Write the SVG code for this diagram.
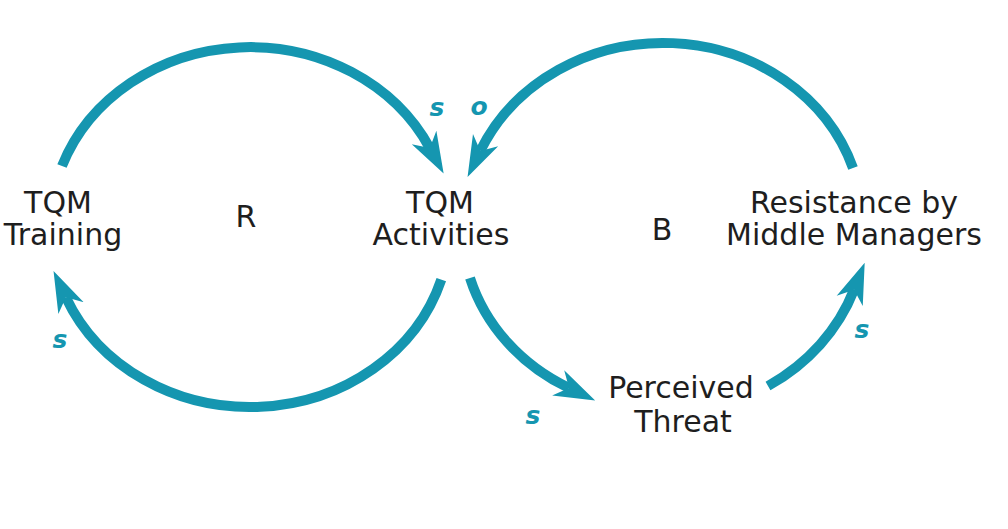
<svg xmlns="http://www.w3.org/2000/svg" width="1008" height="529" viewBox="0 0 1008 529">
<style>
.lbl{font-family:"DejaVu Sans","Liberation Sans",sans-serif;font-size:30px;fill:#1e1e1e;text-anchor:middle}
.pol{font-family:"DejaVu Sans","Liberation Sans",sans-serif;font-size:25px;font-weight:bold;font-style:italic;fill:#1596b0;text-anchor:middle}
.link{fill:none;stroke:#1596b0;stroke-width:10;marker-end:url(#ah)}
</style>
<defs>
<marker id="ah" markerUnits="userSpaceOnUse" markerWidth="46" markerHeight="32" viewBox="0 -16 46 32" refX="12" refY="0" orient="auto">
<path d="M41,0 L0,-14 L12,0 L0,14 Z" fill="#1596b0"/>
</marker>
</defs>
<rect width="1008" height="529" fill="#ffffff"/>
<g id="connectors">
<path class="link" d="M62,166 A200,180 0 0 1 429.8,148.1"/>
<path class="link" d="M441.3,279.6 A200,180 0 0 1 65.9,297.3"/>
<path class="link" d="M853,168 A200,182 0 0 0 480.3,150.9"/>
<path class="link" d="M470,278 A200,182 0 0 0 569,388.1"/>
<path class="link" d="M768,386 A204,186 0 0 0 854.1,289.7"/>
<text class="pol" x="437" y="116">s</text>
<text class="pol" x="479" y="115">o</text>
<text class="pol" x="60" y="348">s</text>
<text class="pol" x="533" y="424">s</text>
<text class="pol" x="862" y="338">s</text>
</g>
<g id="node-tqm-training">
<text class="lbl" x="58" y="213">TQM</text>
<text class="lbl" x="63" y="245">Training</text>
</g>
<g id="node-tqm-activities">
<text class="lbl" x="440" y="213">TQM</text>
<text class="lbl" x="441" y="245">Activities</text>
</g>
<g id="node-resistance">
<text class="lbl" x="854" y="213">Resistance by</text>
<text class="lbl" x="854" y="245">Middle Managers</text>
</g>
<g id="node-threat">
<text class="lbl" x="681" y="398">Perceived</text>
<text class="lbl" x="683" y="432">Threat</text>
</g>
<g id="loop-r"><text class="lbl" x="246" y="227">R</text></g>
<g id="loop-b"><text class="lbl" x="662" y="240">B</text></g>
</svg>
